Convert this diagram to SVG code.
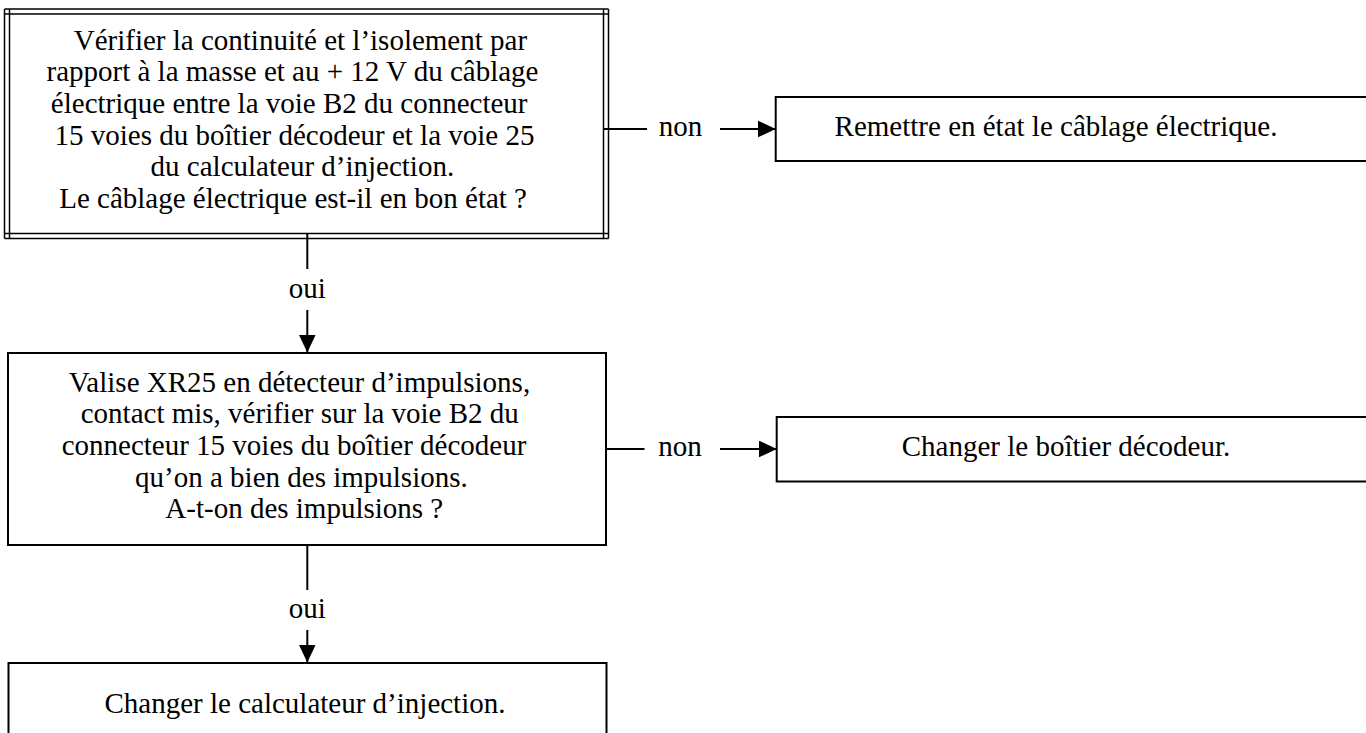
<svg xmlns="http://www.w3.org/2000/svg" width="1366" height="733" viewBox="0 0 1366 733">
<style>
text{font-family:"Liberation Serif","Times New Roman",serif;font-size:29px;fill:#000;text-anchor:middle}
.box{fill:#fff;stroke:#000;stroke-width:2}
.dbl{stroke:#000;stroke-width:1.5;fill:none}
.con{stroke:#000;stroke-width:2;fill:none}
</style>
<defs>
<marker id="ah" markerUnits="userSpaceOnUse" markerWidth="18" markerHeight="17" refX="18" refY="8.5" orient="auto">
<path d="M0,0 L18,8.5 L0,17 z" fill="#000"/>
</marker>
</defs>
<rect width="1366" height="733" fill="#fff"/>

<g id="n1">
<rect x="4.5" y="9" width="604" height="229.5" fill="#fff"/>
<path class="dbl" d="M4.5,9 H608.5 M4.5,14 H608.5 M4.5,233.5 H608.5 M4.5,238.5 H608.5 M4.5,9 V238.5 M9.5,9 V238.5 M603.5,9 V238.5 M608.5,9 V238.5"/>
<text x="300.4" y="49.5">Vérifier la continuité et l’isolement par</text>
<text x="292.5" y="81.2">rapport à la masse et au + 12 V du câblage</text>
<text x="289.2" y="112.9">électrique entre la voie B2 du connecteur</text>
<text x="294.5" y="144.6">15 voies du boîtier décodeur et la voie 25</text>
<text x="302.4" y="176.3">du calculateur d’injection.</text>
<text x="293.1" y="208">Le câblage électrique est-il en bon état ?</text>
</g>

<g id="n2">
<rect class="box" x="775.7" y="97" width="600" height="64"/>
<text x="1056" y="136">Remettre en état le câblage électrique.</text>
</g>

<g id="n3">
<rect class="box" x="8" y="353" width="598" height="192"/>
<text x="299.4" y="391.7">Valise XR25 en détecteur d’impulsions,</text>
<text x="299.8" y="423.3">contact mis, vérifier sur la voie B2 du</text>
<text x="294" y="455">connecteur 15 voies du boîtier décodeur</text>
<text x="301.4" y="486.7">qu’on a bien des impulsions.</text>
<text x="304.3" y="518.3">A-t-on des impulsions ?</text>
</g>

<g id="n4">
<rect class="box" x="776.7" y="417" width="600" height="64.5"/>
<text x="1066" y="455.7">Changer le boîtier décodeur.</text>
</g>

<g id="n5">
<rect class="box" x="8.5" y="663" width="598" height="90"/>
<text x="305" y="713.3">Changer le calculateur d’injection.</text>
</g>

<g id="connectors">
<line class="con" x1="603.5" y1="129" x2="647" y2="129"/>
<text x="680.5" y="136">non</text>
<line class="con" x1="720" y1="129" x2="775.7" y2="129" marker-end="url(#ah)"/>

<line class="con" x1="307.3" y1="233.5" x2="307.3" y2="269"/>
<text x="307.3" y="298.3">oui</text>
<line class="con" x1="307.3" y1="310" x2="307.3" y2="352.5" marker-end="url(#ah)"/>

<line class="con" x1="606" y1="449" x2="644.5" y2="449"/>
<text x="680" y="455.7">non</text>
<line class="con" x1="720" y1="449" x2="776.7" y2="449" marker-end="url(#ah)"/>

<line class="con" x1="307.3" y1="545" x2="307.3" y2="590"/>
<text x="307.3" y="618.3">oui</text>
<line class="con" x1="307.3" y1="630" x2="307.3" y2="662.5" marker-end="url(#ah)"/>
</g>
</svg>
